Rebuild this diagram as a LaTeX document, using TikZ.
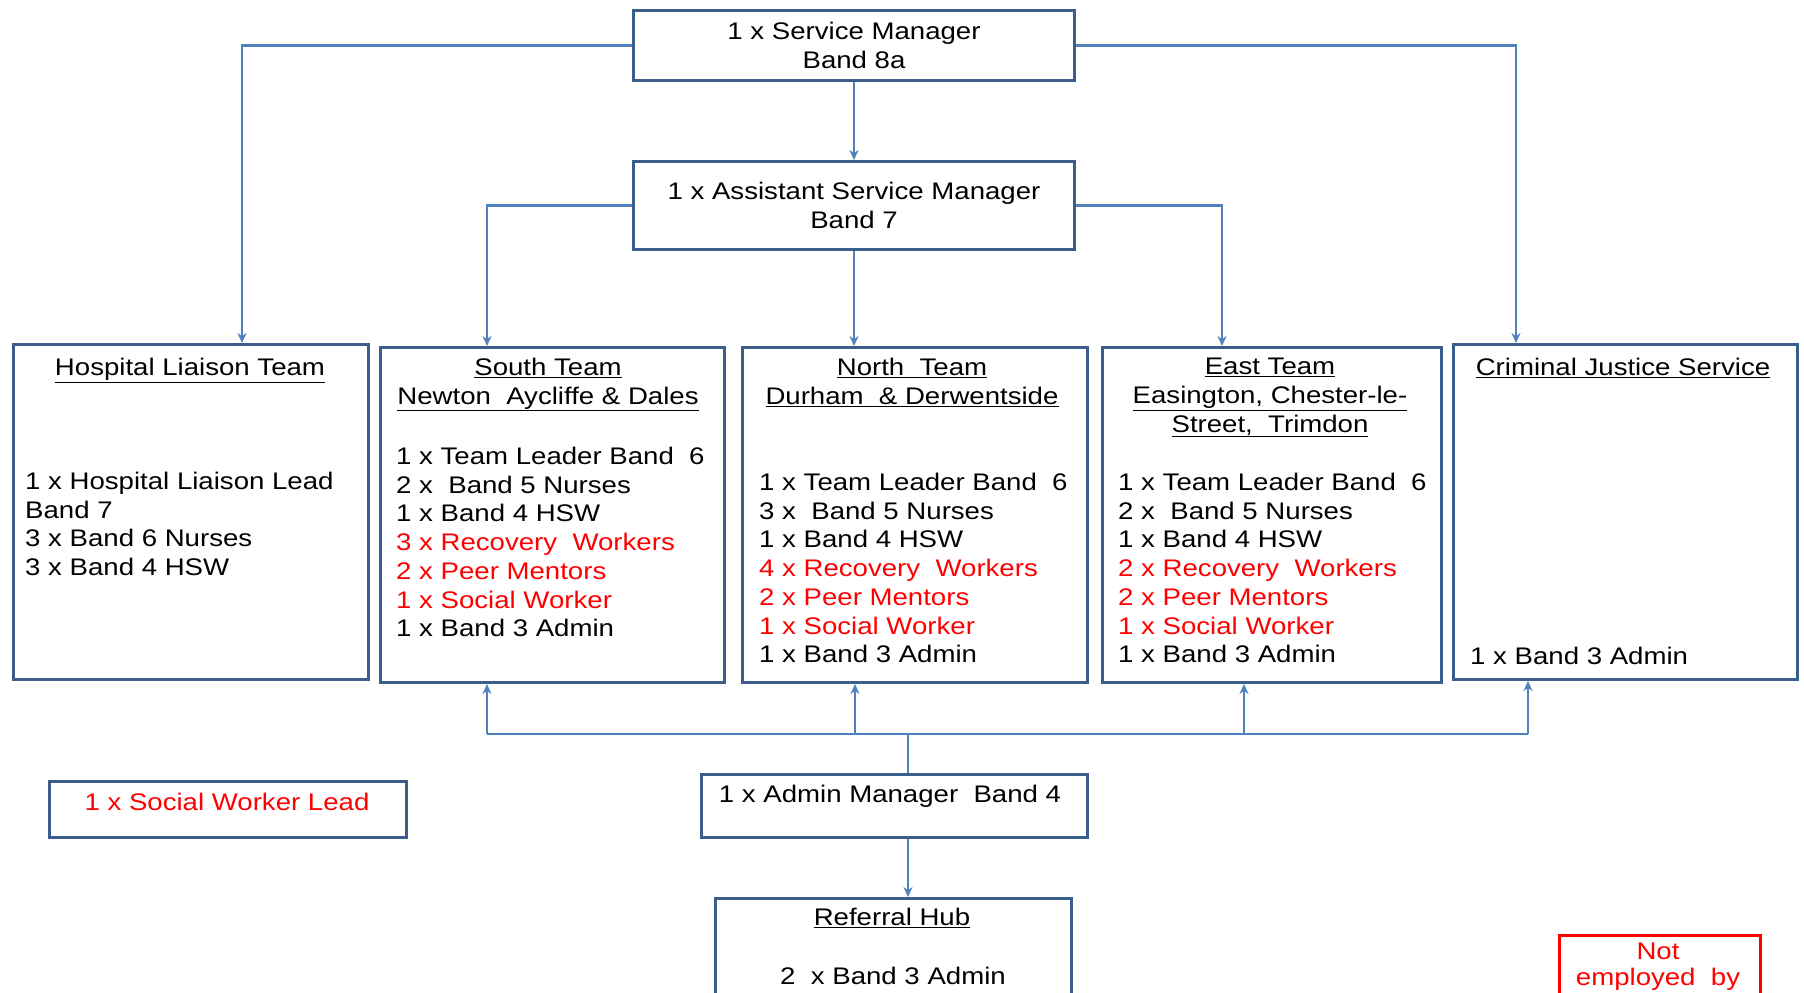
\documentclass[tikz,border=0pt]{standalone}
\usepackage{fontspec}
\setmainfont{Liberation Sans}[FakeStretch=1.15]
\usetikzlibrary{arrows.meta,calc}
\definecolor{boxblue}{HTML}{3C5E8C}
\definecolor{linkblue}{HTML}{4F81BD}
\definecolor{orgred}{HTML}{FF0000}
\newcommand\orgfs{\fontsize{24}{28.7}\selectfont}
\begin{document}
\begin{tikzpicture}[x=1pt,y=-1pt,
  box/.style={draw=boxblue, line width=3pt, rectangle, inner sep=0pt, anchor=north west},
  redbox/.style={box, draw=orgred},
  conn/.style={draw=linkblue, line width=2.2pt, -{Stealth[length=10pt,width=9pt]}},
  link/.style={draw=linkblue, line width=2.2pt},
  txt/.style={font=\orgfs, inner sep=0pt, align=left, anchor=north west},
  ctxt/.style={font=\orgfs, inner sep=0pt, align=center},
  ttl/.style={ctxt, anchor=north},
]
\useasboundingbox (0,0) rectangle (1804,993);
\fill[white] (0,0) rectangle (1804,993);
\clip (0,0) rectangle (1804,993);

% top boxes
\node[box, ctxt, minimum width=441pt, minimum height=70pt] (sm) at (632,9) {1 x Service Manager\\Band 8a};
\node[box, ctxt, minimum width=441pt, minimum height=88pt] (asm) at (632,160) {1 x Assistant Service Manager\\Band 7};

% team boxes
\node[box, minimum width=355pt, minimum height=335pt] (hos) at (12,343) {};
\node[box, minimum width=344pt, minimum height=335pt] (sou) at (379,346) {};
\node[box, minimum width=345pt, minimum height=335pt] (nor) at (741,346) {};
\node[box, minimum width=339pt, minimum height=335pt] (eas) at (1101,346) {};
\node[box, minimum width=344pt, minimum height=335pt] (cjs) at (1452,343) {};

% titles
\node[ttl] (hosT) at (190,358) {\underline{Hospital Liaison Team}};
\node[ttl] (souT) at (548,358) {\underline{South Team}\\\underline{Newton\ \ Aycliffe \& Dales}};
\node[ttl] (norT) at (912,358) {\underline{North\ \ Team}\\\underline{Durham\ \ \& Derwentside}};
\node[ttl] (easT) at (1270,358) {\underline{East Team}\\\underline{Easington, Chester-le-}\\\underline{Street,\ \ Trimdon}};
\node[ttl] (cjsT) at (1623,358) {\underline{Criminal Justice Service}};

% bodies
\node[txt] (hosB) at (25,472) {1 x Hospital Liaison Lead\\Band 7\\3 x Band 6 Nurses\\3 x Band 4 HSW};
\node[txt] (souB) at (396,447) {1 x Team Leader Band\ \ 6\\2 x\ \ Band 5 Nurses\\1 x Band 4 HSW\\
  \textcolor{orgred}{3 x Recovery\ \ Workers}\\\textcolor{orgred}{2 x Peer Mentors}\\\textcolor{orgred}{1 x Social Worker}\\1 x Band 3 Admin};
\node[txt] (norB) at (759,473) {1 x Team Leader Band\ \ 6\\3 x\ \ Band 5 Nurses\\1 x Band 4 HSW\\
  \textcolor{orgred}{4 x Recovery\ \ Workers}\\\textcolor{orgred}{2 x Peer Mentors}\\\textcolor{orgred}{1 x Social Worker}\\1 x Band 3 Admin};
\node[txt] (easB) at (1118,473) {1 x Team Leader Band\ \ 6\\2 x\ \ Band 5 Nurses\\1 x Band 4 HSW\\
  \textcolor{orgred}{2 x Recovery\ \ Workers}\\\textcolor{orgred}{2 x Peer Mentors}\\\textcolor{orgred}{1 x Social Worker}\\1 x Band 3 Admin};
\node[txt] (cjsB) at (1470,647) {1 x Band 3 Admin};

% lower boxes
\node[box, minimum width=386pt, minimum height=63pt] (adm) at (700,773) {};
\node[ttl] (admT) at (890,785) {1 x Admin Manager\ \ Band 4};
\node[box, minimum width=357pt, minimum height=56pt] (swl) at (48,780) {};
\node[ttl, text=orgred] (swlT) at (227,793) {1 x Social Worker Lead};
\node[box, minimum width=356pt, minimum height=130pt] (ref) at (714,897) {};
\node[ttl] (refT) at (892,908) {\underline{Referral Hub}};
\node[ttl] (refB) at (893,967) {2\ \ x Band 3 Admin};
\node[redbox, minimum width=201pt, minimum height=110pt] (ne) at (1558,934) {};
\node[ttl, text=orgred, font=\fontsize{24}{26}\selectfont] (neT) at (1658,943) {Not\\employed\ \ by};

% connectors from managers
\coordinate (hx) at (242,0);
\coordinate (cx) at (1516,0);
\coordinate (sx) at (487,0);
\coordinate (ex) at (1222,0);
\draw[conn] (sm.west) -| (hx |- hos.north);
\draw[conn] (sm.east) -| (cx |- cjs.north);
\draw[conn] (sm.south) -- (asm.north);
\draw[conn] (asm.west) -| (sx |- sou.north);
\draw[conn] (asm.east) -| (ex |- eas.north);
\draw[conn] (asm.south) -- (asm.south |- nor.north);

% admin bus
\coordinate (bus) at (908,734);
\coordinate (busL) at (487,734);
\coordinate (busN) at (855,734);
\coordinate (busE) at (1244,734);
\coordinate (busR) at (1528,734);
\draw[link] (bus |- adm.north) -- (bus);
\draw[link] (busL) -- (busR);
\draw[conn] (busL) -- (busL |- sou.south);
\draw[conn] (busN) -- (busN |- nor.south);
\draw[conn] (busE) -- (busE |- eas.south);
\draw[conn] (busR) -- (busR |- cjs.south);
\draw[conn] (bus |- adm.south) -- (bus |- ref.north);
\end{tikzpicture}
\end{document}
